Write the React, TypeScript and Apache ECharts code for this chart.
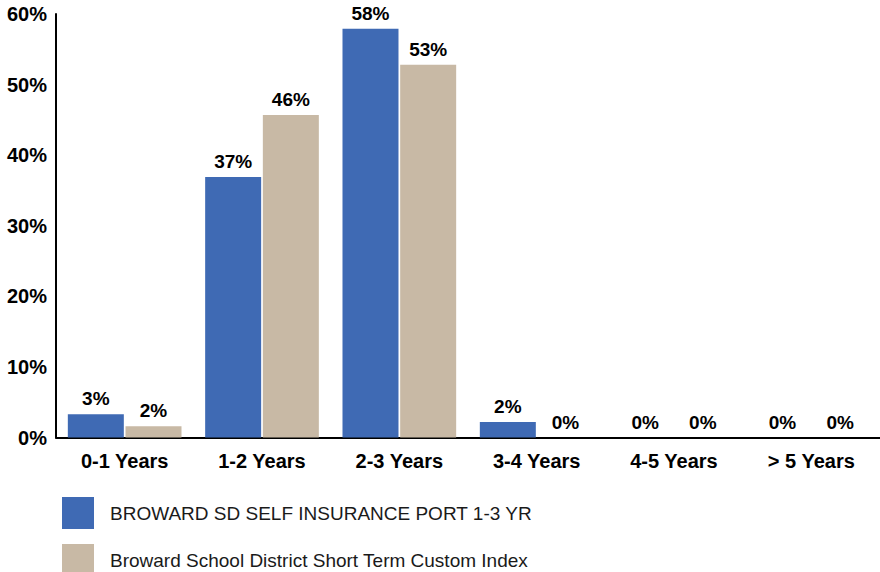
import React, { useEffect, useRef } from "react";
import * as echarts from "echarts";

const categories = ["0-1 Years", "1-2 Years", "2-3 Years", "3-4 Years", "4-5 Years", "> 5 Years"];
const portfolioName = "BROWARD SD SELF INSURANCE PORT 1-3 YR";
const indexName = "Broward School District Short Term Custom Index";
const portfolioValues = [3.3, 36.9, 57.9, 2.2, 0, 0];
const indexValues = [1.6, 45.7, 52.8, 0, 0, 0];
const yTicks = [0, 10, 20, 30, 40, 50, 60];

const FONT = "'Liberation Sans', Arial, sans-serif";

export default function App() {
  const ref = useRef<HTMLDivElement>(null);
  useEffect(() => {
    if (!ref.current) return;
    const chart = echarts.init(ref.current, undefined, { renderer: "svg" });
    const label = {
      show: true,
      position: "top",
      distance: 6,
      fontFamily: FONT,
      fontSize: 19,
      fontWeight: "bold",
      color: "#000",
      formatter: (p: any) => Math.round(p.value) + "%",
    };
    const legendCommon = {
      orient: "vertical",
      left: 62,
      padding: 0,
      itemWidth: 32,
      itemHeight: 32,
      icon: "rect",
      textStyle: { fontFamily: FONT, fontSize: 19, color: "#1a1a1a", padding: [0, 0, 0, 11] },
    };
    chart.setOption({
      animation: false,
      textStyle: { fontFamily: FONT },
      grid: { left: 56, right: 0, top: 14, bottom: 134.5, containLabel: false },
      legend: [
        { ...legendCommon, top: 497, data: [portfolioName] },
        { ...legendCommon, top: 544, data: [indexName] },
      ],
      xAxis: {
        type: "category",
        data: categories,
        axisLine: { show: true, lineStyle: { color: "#000", width: 2 } },
        axisTick: { show: false },
        axisLabel: {
          fontFamily: FONT,
          fontSize: 20,
          fontWeight: "bold",
          color: "#000",
          margin: 13,
          interval: 0,
        },
      },
      yAxis: {
        type: "value",
        min: yTicks[0],
        max: yTicks[yTicks.length - 1],
        interval: 10,
        splitLine: { show: false },
        axisLine: { show: true, lineStyle: { color: "#000", width: 2 } },
        axisTick: { show: false },
        axisLabel: {
          fontFamily: FONT,
          fontSize: 20,
          fontWeight: "bold",
          color: "#000",
          margin: 9,
          formatter: (v: number) => v + "%",
        },
      },
      series: [
        {
          name: portfolioName,
          type: "bar",
          data: portfolioValues,
          barWidth: 56,
          barGap: "3%",
          itemStyle: { color: "#3F6AB4" },
          label,
        },
        {
          name: indexName,
          type: "bar",
          data: indexValues,
          barWidth: 56,
          barGap: "3%",
          itemStyle: { color: "#C8B9A5" },
          label,
        },
      ],
    });
    return () => chart.dispose();
  }, []);
  return <div ref={ref} style={{ width: 880, height: 572, position: "absolute", left: 0, top: 0 }} />;
}
